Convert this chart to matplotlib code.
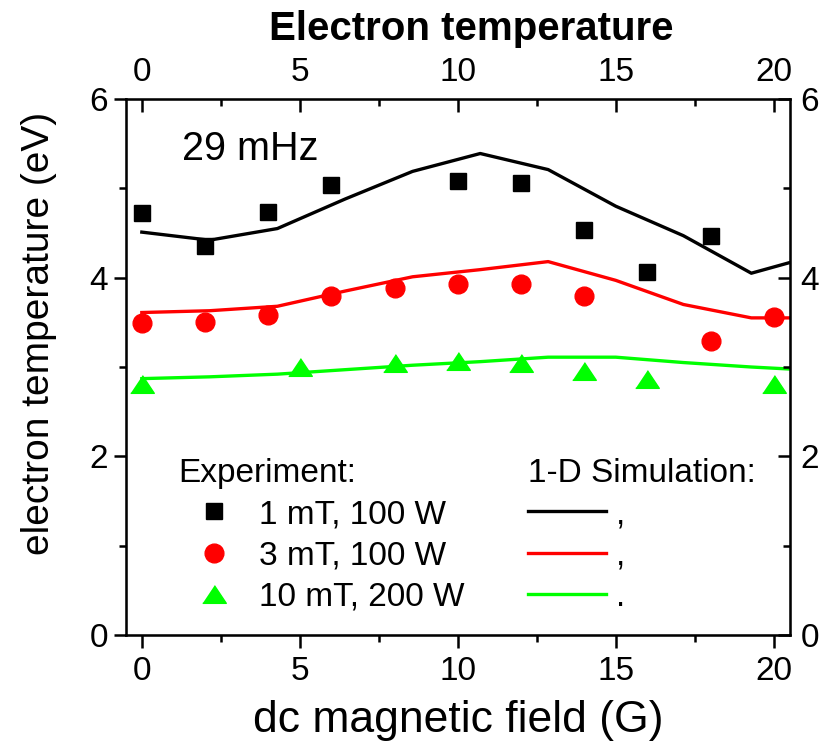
import numpy as np
import matplotlib
matplotlib.use('Agg')
import matplotlib.pyplot as plt
from matplotlib.lines import Line2D
from matplotlib.ticker import MultipleLocator

plt.rcParams['font.family'] = ['Liberation Sans', 'DejaVu Sans']

# experiment (dc field in G, Te in eV)
b_1mT = [0, 2, 4, 6, 10, 12, 14, 16, 18]
te_1mT = [4.72, 4.35, 4.74, 5.04, 5.08, 5.06, 4.53, 4.06, 4.47]
b_3mT = [0, 2, 4, 6, 8, 10, 12, 14, 18, 20]
te_3mT = [3.49, 3.50, 3.58, 3.80, 3.89, 3.93, 3.93, 3.80, 3.29, 3.56]
b_10mT = [0, 5, 8, 10, 12, 14, 16, 20]
te_10mT = [2.81, 3.00, 3.05, 3.07, 3.04, 2.96, 2.87, 2.81]

# 1-D simulation
b_sim = [0, 2.14, 4.29, 6.43, 8.57, 10.71, 12.86, 15.0, 17.14, 19.29, 21.43]
sim_1mT = [4.51, 4.42, 4.55, 4.88, 5.19, 5.39, 5.21, 4.80, 4.47, 4.05, 4.26]
sim_3mT = [3.61, 3.63, 3.68, 3.85, 4.01, 4.09, 4.18, 3.97, 3.70, 3.55, 3.55]
sim_10mT = [2.87, 2.89, 2.92, 2.97, 3.02, 3.06, 3.11, 3.11, 3.05, 3.00, 2.96]

labels_exp = ['1 mT, 100 W', '3 mT, 100 W', '10 mT, 200 W']
labels_sim = [',', ',', '.']
colors = ['black', '#ff0000', '#00ff00']

tri = [(-1, -0.75), (1, -0.75), (0, 0.75)]
ms_sq, ms_ci, ms_tr = 12, 13.5, 17

fig = plt.figure(figsize=(8.21, 7.53), dpi=100)
ax = fig.add_axes([0.1535, 0.1567, 0.8082, 0.7118])

lw = 2.4
ax.plot(b_sim, sim_1mT, color=colors[0], lw=lw)
ax.plot(b_sim, sim_3mT, color=colors[1], lw=lw)
ax.plot(b_sim, sim_10mT, color=colors[2], lw=lw)
ax.plot(b_1mT, te_1mT, 's', color=colors[0], ms=ms_sq, ls='none')
ax.plot(b_3mT, te_3mT, 'o', color=colors[1], ms=ms_ci, ls='none')
ax.plot(b_10mT, te_10mT, marker=tri, color=colors[2], ms=ms_tr, ls='none')

ax.set_xlim(-0.5, 20.5)
ax.set_ylim(0, 6)
ax.xaxis.set_major_locator(MultipleLocator(5))
ax.xaxis.set_minor_locator(MultipleLocator(2.5))
ax.yaxis.set_major_locator(MultipleLocator(2))
ax.yaxis.set_minor_locator(MultipleLocator(1))
ax.tick_params(which='both', direction='out', width=1.8, labelsize=24)
ax.tick_params(which='major', length=9)
ax.tick_params(which='minor', length=5)
ax.tick_params(axis='x', pad=6)
ax.tick_params(axis='y', pad=4)
for s in ax.spines.values():
    s.set_linewidth(1.8)

ax.set_xlabel('dc magnetic field (G)', fontsize=32)
ax.xaxis.set_label_coords(0.5, -0.122)
ax.set_ylabel('electron temperature (eV)', fontsize=28)
ax.yaxis.set_label_coords(-0.104, 0.562)

# top axis
axt = ax.twiny()
axt.set_xlim(ax.get_xlim())
axt.xaxis.set_major_locator(MultipleLocator(5))
axt.xaxis.set_minor_locator(MultipleLocator(2.5))
axt.tick_params(which='both', direction='in', width=1.8, labelsize=24, pad=8)
axt.tick_params(which='major', length=9)
axt.tick_params(which='minor', length=5)

# right axis
axr = ax.twinx()
axr.set_ylim(ax.get_ylim())
axr.yaxis.set_major_locator(MultipleLocator(2))
axr.yaxis.set_minor_locator(MultipleLocator(1))
axr.tick_params(which='both', direction='in', width=1.8, labelsize=24, pad=8)
axr.tick_params(which='major', length=9)
axr.tick_params(which='minor', length=5)

fig.text(0.5737, 0.9469, 'Electron temperature', fontsize=29, fontweight='bold',
         ha='center', va='baseline')
ax.text(0.085, 0.886, '29 mHz', fontsize=28.5, transform=ax.transAxes, va='baseline')

# legends
h_exp = [Line2D([], [], marker='s', color=colors[0], ms=ms_sq, ls='none'),
         Line2D([], [], marker='o', color=colors[1], ms=ms_ci, ls='none'),
         Line2D([], [], marker=tri, color=colors[2], ms=ms_tr, ls='none')]
leg1 = ax.legend(h_exp, labels_exp, title='Experiment:', loc='upper left',
                 bbox_to_anchor=(0.2168, 0.392), bbox_transform=fig.transFigure,
                 frameon=False, fontsize=24, title_fontsize=24, borderpad=0,
                 borderaxespad=0, handlelength=2.17, handletextpad=0.25,
                 labelspacing=0.31, alignment='left')
ax.add_artist(leg1)

h_sim = [Line2D([], [], color=c, lw=lw) for c in colors]
ax.legend(h_sim, labels_sim, title='1-D Simulation:', loc='upper left',
          bbox_to_anchor=(0.643, 0.392), bbox_transform=fig.transFigure,
          frameon=False, fontsize=24, title_fontsize=24, borderpad=0,
          borderaxespad=0, handlelength=2.34, handletextpad=0.3,
          labelspacing=0.31, alignment='left')

fig.savefig('out.png', dpi=100)
